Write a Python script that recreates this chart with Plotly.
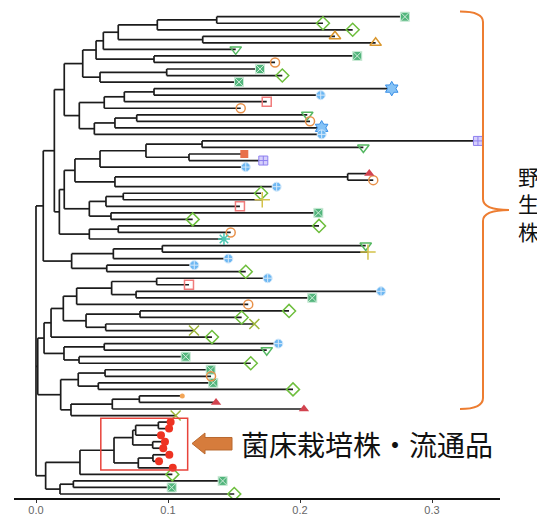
import plotly.graph_objects as go

# ---------------- data ----------------
leaf_names = [f"t{i:02d}" for i in range(1, 75)]
leaf_dist = [0.2795, 0.2174, 0.2399, 0.2265, 0.2573, 0.1513, 0.2434, 0.1811, 0.1697, 0.1866,
             0.1538, 0.2695, 0.2157, 0.1748, 0.1551, 0.2055, 0.2076, 0.2164, 0.2164, 0.3348,
             0.2480, 0.1578, 0.1722, 0.1589, 0.2525, 0.2555, 0.1823, 0.1705, 0.1714, 0.1545,
             0.2139, 0.1187, 0.2144, 0.1475, 0.1424, 0.2498, 0.2515, 0.1457, 0.1199, 0.1589,
             0.1755, 0.1159, 0.2614, 0.2093, 0.1608, 0.1917, 0.1558, 0.1654, 0.1197, 0.1333,
             0.1836, 0.1748, 0.1134, 0.1627, 0.1323, 0.1326, 0.1343, 0.1947, 0.1108, 0.1364,
             0.2030, 0.1058, 0.1020, 0.1008, 0.0947, 0.0977, 0.0964, 0.1010, 0.0932, 0.1036,
             0.1033, 0.1414, 0.1028, 0.1502]
leaf_group = ["sqx_g", "dia_g", "dia_g", "tri_o", "tri_o", "tdn_g", "sqx_g", "cir_o", "sqx_g", "dia_g",
              "sqx_g", "hex_b", "cc_b", "sq_p", "cir_o", "tdn_g", "cir_o", "hex_b", "cc_b", "sqc_v",
              "tdn_g", "sqf_o", "sqc_v", "cc_b", "tri_r", "cir_o", "cc_b", "dia_g", "plus_y", "sq_p",
              "sqx_g", "dia_g", "dia_g", "cir_o", "ast_t", "tdn_g", "plus_y", "cc_b", "cc_b", "dia_g",
              "cc_b", "sq_p", "cc_b", "sqx_g", "cir_o", "dia_g", "dia_g", "x_ol", "x_ol", "dia_g",
              "cc_b", "tdn_g", "sqx_g", "dia_g", "sqx_g", "cir_o", "sqx_g", "dia_g", "dot_o", "tri_r",
              "tri_r", "x_ol", "dot_r", "dot_r", "dot_r", "dot_r", "dot_r", "dot_r", "dot_r", "dot_r",
              "dia_g", "sqx_g", "sqx_g", "dia_g"]

node_names = ["u1", "u2", "u3", "u4", "u5", "u6", "u7", "u8", "u9", "u10",
              "u11", "u12", "u13", "u14", "u15", "u16", "u17", "u18", "u19", "u20",
              "u21", "u22", "u23", "u24", "u25", "u26", "u27", "u28", "u29", "u30",
              "u31", "u32", "u33", "u34", "u35", "u36", "u37", "u38", "u39",
              "p1", "p2", "p3", "p4", "p5", "p6", "p7", "p8", "p9", "p10",
              "p11", "p12", "p13", "p14", "p15", "p16", "p17", "p18", "p19", "p20", "p21",
              "c1", "c2", "c3", "c4", "c5", "c6", "c7", "c8", "c9", "c10", "c11", "root"]
node_dist = [0.1369, 0.0919, 0.1263, 0.0623, 0.0510, 0.0894, 0.0455, 0.0990, 0.0485, 0.0354,
             0.0894, 0.0669, 0.0517, 0.0763, 0.0598, 0.0442, 0.0328, 0.0214, 0.1258, 0.1159,
             0.0833, 0.0485, 0.2361, 0.0598, 0.0295, 0.0661, 0.0530, 0.0568, 0.0404, 0.0214,
             0.0623, 0.0404, 0.0177, 0.0139, 0.0957, 0.0586, 0.0536, 0.0270, 0.0055,
             0.0914, 0.0758, 0.0573, 0.0308, 0.0788, 0.0528, 0.0379, 0.0207, 0.0114, 0.0517,
             0.0326, 0.0212, 0.0061, 0.0523, 0.0472, 0.0320, 0.0783, 0.0578, 0.0265, 0.0187, 0.0013,
             0.0927, 0.0755, 0.0884, 0.0733, 0.0886, 0.0775, 0.0591, 0.0333, 0.0283, 0.0182, 0.0073, 0.0]
node_children = [["t01", "t02"], ["u1", "t03"], ["t04", "t05"], ["u2", "u3"], ["u4", "t06"],
                 ["t07", "t08"], ["u5", "u6"], ["t09", "t10"], ["u8", "t11"], ["u7", "u9"],
                 ["t12", "t13"], ["u11", "t14"], ["u12", "t15"], ["t16", "t17"], ["u14", "t18"],
                 ["u15", "t19"], ["u13", "u16"], ["u10", "u17"], ["t20", "t21"], ["t22", "t23"],
                 ["u19", "u20"], ["u21", "t24"], ["t25", "t26"], ["u23", "t27"], ["u22", "u24"],
                 ["t28", "t29"], ["u26", "t30"], ["t31", "t32"], ["u27", "u28"], ["u25", "u29"],
                 ["t33", "t34"], ["u31", "t35"], ["u30", "u32"], ["u18", "u33"], ["t36", "t37"],
                 ["u35", "t38"], ["t39", "t40"], ["u36", "u37"], ["u34", "u38"],
                 ["t41", "t42"], ["t43", "t44"], ["p1", "p2"], ["p3", "t45"], ["t46", "t47"],
                 ["t48", "t49"], ["p5", "p6"], ["p4", "p7"], ["p8", "t50"], ["t51", "t52"],
                 ["t53", "t54"], ["p10", "p11"], ["p9", "p12"], ["t55", "t56"], ["t57", "t58"],
                 ["p14", "p15"], ["t59", "t60"], ["p17", "t61"], ["p18", "t62"], ["p16", "p19"], ["p13", "p20"],
                 ["t63", "t64"], ["c1", "t65"], ["t66", "t67"], ["c2", "c3"], ["t68", "t69"],
                 ["c5", "t70"], ["c4", "c6"], ["c7", "t71"], ["t72", "t73"], ["c9", "t74"],
                 ["c8", "c10"], ["u39", "p21", "c11"]]

cluster_leaves = ["t63", "t64", "t65", "t66", "t67", "t68", "t69", "t70"]
cluster_node = "c7"

tick_vals = [0.0, 0.1, 0.2, 0.3]
tick_text = ["0.0", "0.1", "0.2", "0.3"]
label_cultivated = "菌床栽培株・流通品"
label_wild = ["野", "生", "株"]

# ---------------- styles ----------------
styles = {
    "sqx_g": dict(symbol="square-x", color="#52B57C", line=dict(color="#CDEBD8", width=1), size=9),
    "dia_g": dict(symbol="diamond-open", color="#6DBE3C", line=dict(width=1.5), size=10),
    "tri_o": dict(symbol="triangle-up-open", color="#D9962C", line=dict(width=1.5), size=10),
    "tdn_g": dict(symbol="triangle-down-open", color="#55B862", line=dict(width=1.5), size=10),
    "cir_o": dict(symbol="circle-open", color="#E8914A", line=dict(width=1.5), size=9),
    "sq_p": dict(symbol="square-open", color="#F07C7C", line=dict(width=1.5), size=9),
    "hex_b": dict(symbol="hexagram", color="#86C3F6", line=dict(color="#3A8FE6", width=1), size=11),
    "cc_b": dict(symbol="circle-cross", color="#6DB7F2", line=dict(color="#D3E9FB", width=1), size=9),
    "sqc_v": dict(symbol="square-cross", color="#D6D0FB", line=dict(color="#8E7FEF", width=1), size=9),
    "sqf_o": dict(symbol="square", color="#E8704A", line=dict(width=0), size=8),
    "tri_r": dict(symbol="triangle-up", color="#D2434F", line=dict(width=0), size=9),
    "plus_y": dict(symbol="cross-thin-open", color="#D4C24A", line=dict(width=1.5), size=11),
    "ast_t": dict(symbol="asterisk-open", color="#4CC7B2", line=dict(width=1.5), size=10),
    "x_ol": dict(symbol="x-thin-open", color="#9DB53A", line=dict(width=1.5), size=10),
    "dot_o": dict(symbol="circle", color="#F2A557", line=dict(width=0), size=5),
    "dot_r": dict(symbol="circle", color="#EE3322", line=dict(width=0), size=8),
}

# ---------------- tree layout ----------------
pos = {n: (leaf_dist[i], i) for i, n in enumerate(leaf_names)}
children = dict(zip(node_names, node_children))
dist = dict(zip(node_names, node_dist))


def ycoord(n):
    if n in pos:
        return pos[n][1]
    ys = [ycoord(c) for c in children[n]]
    y = (ys[0] + ys[-1]) / 2
    pos[n] = (dist[n], y)
    return y


ycoord("root")

lx, ly = [], []
for n in node_names:
    x, y = pos[n]
    cs = children[n]
    lx += [x, x, None]
    ly += [pos[cs[0]][1], pos[cs[-1]][1], None]
    for c in cs:
        cx, cy = pos[c]
        lx += [x, cx, None]
        ly += [cy, cy, None]

fig = go.Figure()
fig.add_trace(go.Scatter(x=lx, y=ly, mode="lines", line=dict(color="#1c1c1c", width=1.7),
                         hoverinfo="skip", showlegend=False))

for g, st in styles.items():
    idx = [i for i, gg in enumerate(leaf_group) if gg == g]
    if not idx:
        continue
    fig.add_trace(go.Scatter(x=[leaf_dist[i] for i in idx], y=[i for i in idx], mode="markers",
                             marker=st, showlegend=False, name=g))

# ---------------- annotations / shapes ----------------
OFF = 8  # page body margin
W, H = 545 - OFF, 515 - OFF
ML, MR, MT, MB = 14 - OFF, 45, 0, 17
PW, PH = W - ML - MR, H - MT - MB


def X(p):
    return (p - OFF - ML) / PW


def Y(p):
    return (H - MB - (p - OFF)) / PH


def pt(x, y):
    return f"{X(x):.5f},{Y(y):.5f}"


bracket = ("M " + pt(460, 11.5) + " Q " + pt(483, 11.5) + " " + pt(483, 22) +
           " L " + pt(483, 199) + " Q " + pt(483, 210) + " " + pt(509, 210) +
           " Q " + pt(483, 210) + " " + pt(483, 221) + " L " + pt(483, 398) +
           " Q " + pt(483, 409) + " " + pt(460, 409))
fig.add_shape(type="path", path=bracket, xref="paper", yref="paper",
              line=dict(color="#ED7D31", width=2))

arrow = ("M " + pt(192, 443.5) + " L " + pt(205, 433) + " L " + pt(205, 437.5) +
         " L " + pt(232, 437.5) + " L " + pt(232, 450) + " L " + pt(205, 450) +
         " L " + pt(205, 454) + " Z")
fig.add_shape(type="path", path=arrow, xref="paper", yref="paper",
              fillcolor="#D67C3C", line=dict(color="#B9692F", width=1))

cidx = [leaf_names.index(n) for n in cluster_leaves]
fig.add_shape(type="rect", xref="x", yref="y",
              x0=pos[cluster_node][0] - 0.0100, x1=max(leaf_dist[i] for i in cidx) + 0.0113,
              y0=min(cidx) - 0.58, y1=max(cidx) + 0.33,
              line=dict(color="#E8433B", width=1.5))

fig.add_annotation(x=X(366.5), y=Y(443.5), xref="paper", yref="paper", text=label_cultivated,
                   showarrow=False, xanchor="center", yanchor="middle",
                   font=dict(family="Noto Sans CJK JP", size=28, color="#111111"))
fig.add_annotation(x=X(528), y=Y(203.5), xref="paper", yref="paper", text="<br>".join(label_wild),
                   showarrow=False, xanchor="center", yanchor="middle", align="center",
                   font=dict(family="Noto Sans CJK JP", size=21, color="#111111"))

# axis ranges chosen so leaf 0 sits at 16.7px and leaf 73 at 494px on the page
span = 73 * PH / (494 - 16.7)
ytop = -(16.7 - OFF - MT) * span / PH
fig.update_layout(
    width=W, height=H, margin=dict(l=ML, r=MR, t=MT, b=MB, autoexpand=False),
    paper_bgcolor="white", plot_bgcolor="white", showlegend=False,
    xaxis=dict(range=[-22 / 1320, -22 / 1320 + PW / 1320], showgrid=False, zeroline=False,
               showline=True, linecolor="#111111", linewidth=1.5, ticks="outside", ticklen=3,
               tickcolor="#333333", tickvals=tick_vals, ticktext=tick_text, automargin=False,
               ticklabelstandoff=-2,
               tickfont=dict(family="Liberation Sans", size=11, color="#666666")),
    yaxis=dict(range=[ytop + span, ytop], visible=False, showgrid=False, zeroline=False,
               automargin=False),
)

fig.write_html("out.html")
